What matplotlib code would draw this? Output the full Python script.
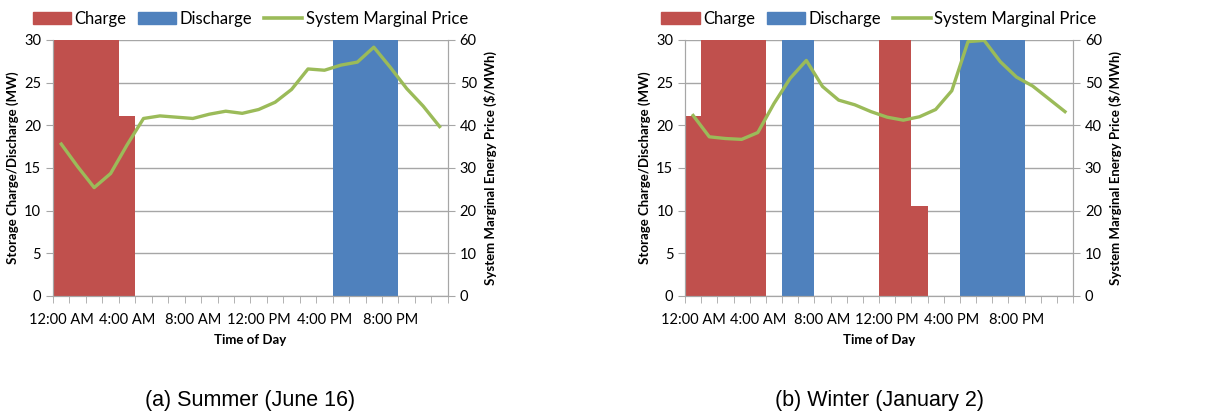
import matplotlib.pyplot as plt
from matplotlib.patches import Patch
from matplotlib.lines import Line2D

hours = list(range(24))
tick_labels = ["12:00 AM", "4:00 AM", "8:00 AM", "12:00 PM", "4:00 PM", "8:00 PM"]

summer_charge = [30, 30, 30, 30, 21.1, 0, 0, 0, 0, 0, 0, 0,
                 0, 0, 0, 0, 0, 0, 0, 0, 0, 0, 0, 0]
summer_discharge = [0, 0, 0, 0, 0, 0, 0, 0, 0, 0, 0, 0,
                    0, 0, 0, 0, 0, 30, 30, 30, 30, 0, 0, 0]
summer_price = [35.6, 30.3, 25.4, 28.7, 35.4, 41.6, 42.2, 41.9, 41.6, 42.6, 43.3, 42.8,
                43.7, 45.4, 48.4, 53.2, 52.9, 54.1, 54.8, 58.3, 53.6, 48.6, 44.5, 39.7]

winter_charge = [21.1, 30, 30, 30, 30, 0, 0, 0, 0, 0, 0, 0,
                 30, 30, 10.6, 0, 0, 0, 0, 0, 0, 0, 0, 0]
winter_discharge = [0, 0, 0, 0, 0, 0, 30, 30, 0, 0, 0, 0,
                    0, 0, 0, 0, 0, 30, 30, 30, 30, 0, 0, 0]
winter_price = [42.3, 37.3, 36.9, 36.7, 38.3, 45.1, 51.0, 55.2, 49.1, 45.9, 44.8, 43.2,
                41.9, 41.2, 42.0, 43.7, 48.1, 59.6, 59.9, 54.9, 51.3, 49.2, 46.2, 43.2]

RED = "#C0504D"
BLUE = "#4F81BD"
GREEN = "#9BBB59"
GRID = "#A6A6A6"

plt.rcParams["font.family"] = ["Lato", "DejaVu Sans"]

fig = plt.figure(figsize=(12.11, 4.13), dpi=100)


def panel(rect, charge, discharge, price, caption):
    ax = fig.add_axes(rect)
    ax.bar(hours, charge, width=1.0, color=RED, zorder=2)
    ax.bar(hours, discharge, width=1.0, color=BLUE, zorder=2)
    ax.set_xlim(-0.5, 23.5)
    ax.set_ylim(0, 30)
    ax.set_yticks(range(0, 31, 5))
    ax.yaxis.grid(True, color=GRID, linewidth=1.0, zorder=0)
    ax.set_axisbelow(True)
    ax.set_xticks(range(0, 24, 4))
    ax.set_xticklabels(tick_labels)
    ax.set_xticks([h - 0.5 for h in range(25)], minor=True)
    ax.tick_params(axis="x", which="major", length=0, labelsize=10.5, pad=12)
    ax.tick_params(axis="x", which="minor", length=5, color=GRID)
    ax.tick_params(axis="y", length=5, color=GRID, labelsize=10.5)
    ax.spines["top"].set_visible(False)
    for s in ["left", "right", "bottom"]:
        ax.spines[s].set_color(GRID)
    ax.set_ylabel("Storage Charge/Discharge (MW)", fontsize=9.5, fontweight="bold", labelpad=4)
    ax.set_xlabel("Time of Day", fontsize=9.5, fontweight="bold", labelpad=5)

    ax2 = ax.twinx()
    ax2.plot(hours, price, color=GREEN, linewidth=2.4, zorder=3)
    ax2.set_ylim(0, 60)
    ax2.set_yticks(range(0, 61, 10))
    ax2.tick_params(axis="y", length=5, color=GRID, labelsize=10.5)
    ax2.spines["top"].set_visible(False)
    for s in ["left", "right", "bottom"]:
        ax2.spines[s].set_color(GRID)
    ax2.set_ylabel("System Marginal Energy Price ($/MWh)", fontsize=9.5, fontweight="bold", labelpad=5)

    handles = [Patch(color=RED, label="Charge"),
               Patch(color=BLUE, label="Discharge"),
               Line2D([0], [0], color=GREEN, linewidth=2.6, label="System Marginal Price")]
    ax.legend(handles=handles, loc="lower center", bbox_to_anchor=(0.5, 1.025), ncol=3,
              frameon=False, fontsize=12, handlelength=2.3, handleheight=0.8,
              handletextpad=0.2, columnspacing=0.7, borderaxespad=0.0)

    x0, y0, w, h = rect
    fig.text(x0 + w / 2, 0.006, caption, ha="center", va="bottom", fontsize=15.5,
             family=["Liberation Sans", "DejaVu Sans"])


panel([0.0438, 0.2833, 0.326, 0.620], summer_charge, summer_discharge, summer_price,
      "(a) Summer (June 16)")
panel([0.5657, 0.2833, 0.3204, 0.620], winter_charge, winter_discharge, winter_price,
      "(b) Winter (January 2)")

fig.savefig("out.png", dpi=100)
